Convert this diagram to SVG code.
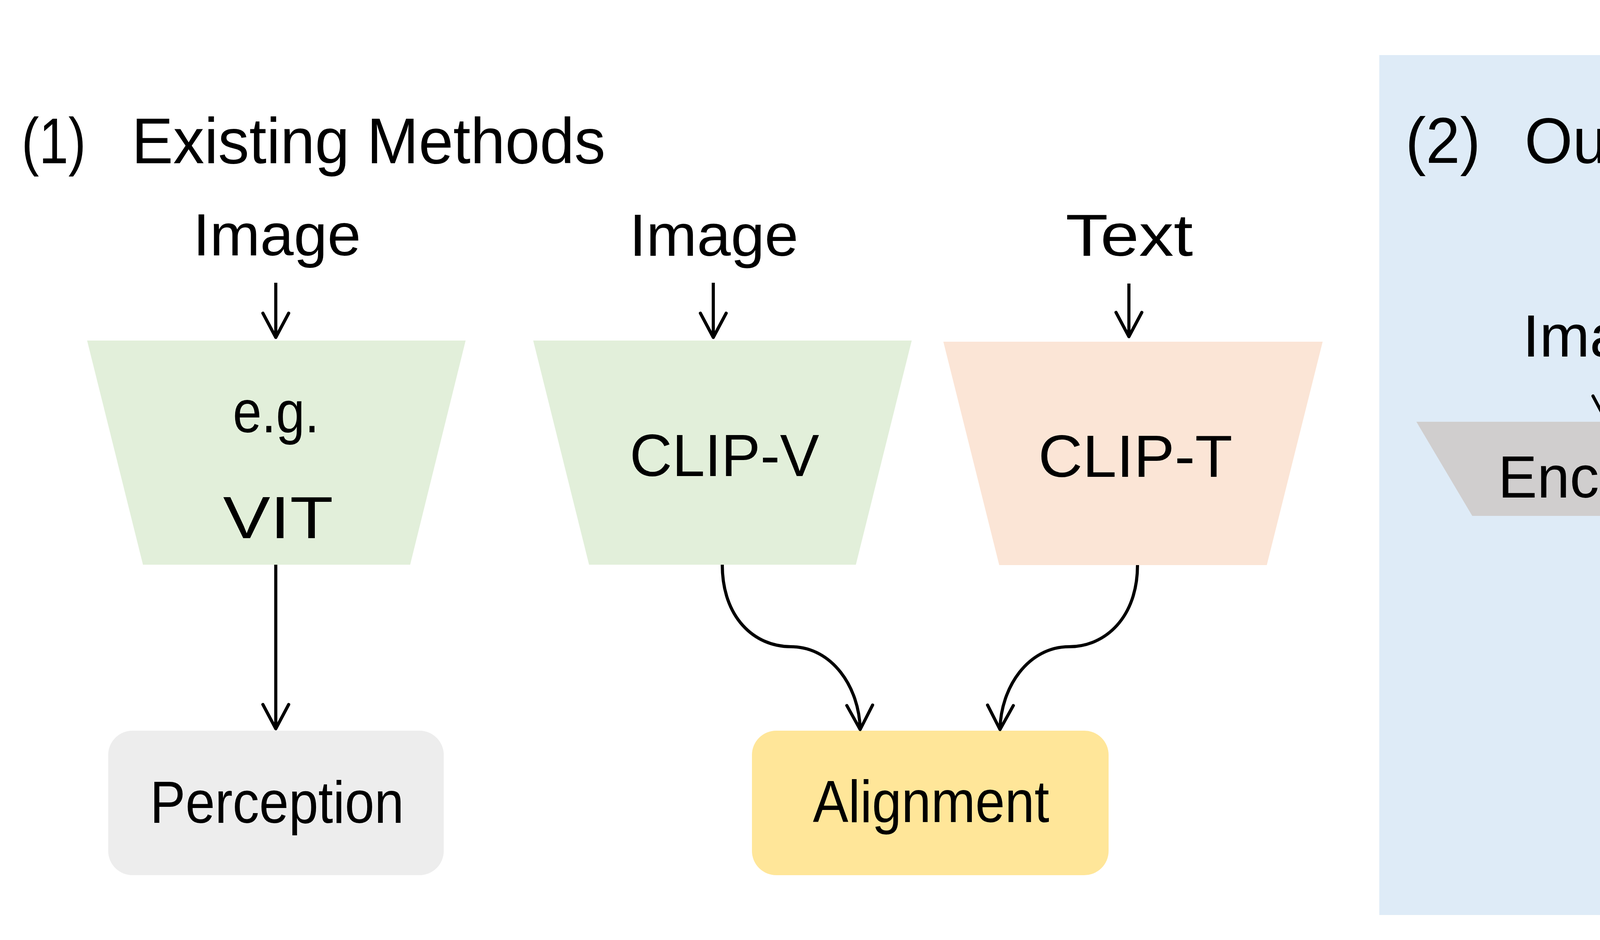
<svg xmlns="http://www.w3.org/2000/svg" width="7084" height="2407" viewBox="0 0 7084 2407">
<defs>
<style>
.t{font-family:"Liberation Sans","DejaVu Sans",sans-serif;font-size:152px;fill:#000;}
.ti{font-family:"Liberation Sans","DejaVu Sans",sans-serif;font-size:165px;fill:#000;}
.c{fill:none;stroke:#000;stroke-width:8;marker-end:url(#arr);}
.green{fill:#e2efda;}
.peach{fill:#fbe5d6;}
.yellow{fill:#ffe699;}
.grey{fill:#ededed;}
</style>
<marker id="arr" markerUnits="userSpaceOnUse" markerWidth="90" markerHeight="90" viewBox="-75 -45 90 90" refX="0" refY="0" orient="auto" overflow="visible">
<path d="M-62,-33 L0,0 L-62,33" fill="none" stroke="#000" stroke-width="8" stroke-linecap="round" stroke-linejoin="round"/>
</marker>
</defs>
<rect x="0" y="0" width="7084" height="2407" fill="#ffffff"/>
<g id="panel-right-bg">
<rect x="3531" y="141" width="3462" height="2202" fill="#deebf7"/>
</g>
<g id="title-1">
<text class="ti" y="418"><tspan x="55" textLength="165" lengthAdjust="spacingAndGlyphs">(1)</tspan><tspan x="337" textLength="1213" lengthAdjust="spacingAndGlyphs">Existing Methods</tspan></text>
</g>
<g id="title-2">
<text class="ti" y="417"><tspan x="3598" textLength="192" lengthAdjust="spacingAndGlyphs">(2)</tspan><tspan x="3903" textLength="835" lengthAdjust="spacingAndGlyphs">Our Method</tspan></text>
</g>
<g id="image-1"><text class="t" x="494" y="654" textLength="430" lengthAdjust="spacingAndGlyphs">Image</text></g>
<g id="image-2"><text class="t" x="1611" y="655" textLength="433" lengthAdjust="spacingAndGlyphs">Image</text></g>
<g id="text-1"><text class="t" x="2728" y="655" textLength="326" lengthAdjust="spacingAndGlyphs">Text</text></g>
<g id="vit">
<path class="green" d="M223,872 L1192,872 L1050,1446 L366,1446 Z"/>
<text class="t" x="596" y="1107" textLength="221" lengthAdjust="spacingAndGlyphs">e.g.</text>
<text class="t" x="571" y="1378" textLength="282" lengthAdjust="spacingAndGlyphs">VIT</text>
</g>
<g id="clip-v">
<path class="green" d="M1365,872 L2334,872 L2191,1446 L1508,1446 Z"/>
<text class="t" x="1612" y="1219" textLength="485" lengthAdjust="spacingAndGlyphs">CLIP-V</text>
</g>
<g id="clip-t-1">
<path class="peach" d="M2415,875 L3386,875 L3243,1447 L2558,1447 Z"/>
<text class="t" x="2658" y="1221" textLength="497" lengthAdjust="spacingAndGlyphs">CLIP-T</text>
</g>
<g id="perception-1">
<rect class="grey" x="277" y="1871" width="859" height="370" rx="62" ry="62"/>
<text class="t" x="384" y="2107" textLength="650" lengthAdjust="spacingAndGlyphs">Perception</text>
</g>
<g id="alignment-1">
<rect class="yellow" x="1925" y="1871" width="913" height="370" rx="62" ry="62"/>
<text class="t" x="2081" y="2105" textLength="605" lengthAdjust="spacingAndGlyphs">Alignment</text>
</g>
<g id="image-3"><text class="t" x="3898" y="913" textLength="430" lengthAdjust="spacingAndGlyphs">Image</text></g>
<g id="text-2"><text class="t" x="5021" y="695" textLength="332" lengthAdjust="spacingAndGlyphs">Text</text></g>
<g id="encoder">
<path fill="#d0cece" d="M3626,1080 L4596,1080 L4453,1321 L3769,1321 Z"/>
<text class="t" x="3835" y="1274" textLength="559" lengthAdjust="spacingAndGlyphs">Encoder</text>
</g>
<g id="clip-t-2">
<path class="peach" d="M4797,880 L5583,880 L5470,1258 L4912,1258 Z"/>
<text class="t" x="4949" y="1126" textLength="494" lengthAdjust="spacingAndGlyphs">CLIP-T</text>
</g>
<g id="unet">
<path fill="#ede2f2" d="M4625,1379 L5175,1473 L5708,1381 L5708,2026 L5175,1934 L4625,2028 Z"/>
<text class="t" x="4956" y="1757" textLength="432" lengthAdjust="spacingAndGlyphs">U-Net</text>
</g>
<g id="alignment-2">
<rect class="yellow" x="5951" y="1322" width="914" height="373" rx="70" ry="70"/>
<text class="t" x="6107" y="1557" textLength="606" lengthAdjust="spacingAndGlyphs">Alignment</text>
</g>
<g id="perception-2">
<rect class="grey" x="5951" y="1729" width="914" height="370" rx="70" ry="70"/>
<text class="t" x="6087" y="1962" textLength="647" lengthAdjust="spacingAndGlyphs">Perception</text>
</g>
<g id="connectors">
<path class="c" d="M706,724 L706,864"/>
<path class="c" d="M706,1446 L706,1866"/>
<path class="c" d="M1826,724 L1826,864"/>
<path class="c" d="M2890,726 L2890,862"/>
<path class="c" d="M1849,1446 C1849,1580 1930,1656 2025,1656 C2130,1656 2200,1760 2202,1868"/>
<path class="c" d="M2912,1447 C2912,1580 2830,1656 2737,1656 C2632,1656 2562,1760 2560,1868"/>
<path class="c" d="M4111,982 L4111,1076"/>
<path class="c" d="M4110,1341 C4110,1560 4380,1699 4573,1699"/>
<path class="c" d="M5185,766 L5190,893"/>
<path class="c" d="M5175,1284 L5175,1470"/>
<path class="c" d="M5718,1520 L5902,1520"/>
<path class="c" d="M5708,1722 L5892,1722"/>
<path class="c" d="M5716,1945 L5901,1945"/>
</g>
</svg>
